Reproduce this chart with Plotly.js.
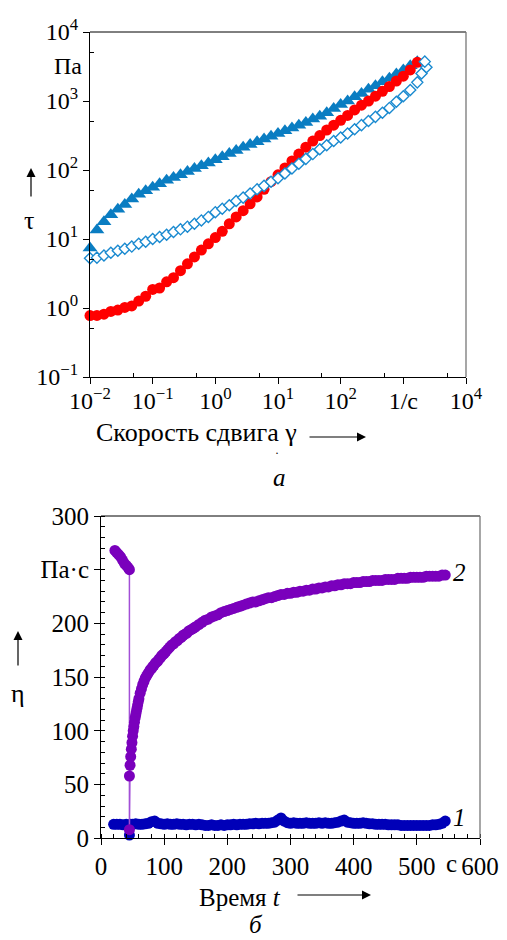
<!DOCTYPE html>
<html><head><meta charset="utf-8">
<script src="https://cdn.plot.ly/plotly-3.0.1.min.js"></script>
<style>
html,body{margin:0;padding:0;background:#fff}
#chart{width:507px;height:940px}
</style>
</head><body><div id="chart"></div>
<script>
// ---------- Panel (а): flow curves ----------
const shearRate = [0.01, 0.0129, 0.0167, 0.0215, 0.0278, 0.0359, 0.0464, 0.0599, 0.0774,
  0.1, 0.129, 0.167, 0.215, 0.278, 0.359, 0.464, 0.599, 0.774,
  1, 1.29, 1.67, 2.15, 2.78, 3.59, 4.64, 5.99, 7.74,
  10, 12.9, 16.7, 21.5, 27.8, 35.9, 46.4, 59.9, 77.4,
  100, 129, 167, 215, 278, 359, 464, 599, 774,
  1000, 1290, 1670];
const stressCircles = [0.776, 0.78, 0.813, 0.891, 0.933, 1.02, 1.07, 1.26, 1.48,
  1.86, 1.95, 2.40, 2.75, 3.47, 4.37, 5.50, 6.92, 8.51,
  10.5, 12.9, 16.6, 20.9, 25.7, 32.4, 40.7, 52.5, 67.6,
  85.1, 107, 135, 170, 214, 263, 316, 380, 447,
  525, 617, 741, 871, 1000, 1175, 1380, 1622, 1950,
  2290, 2820, 3630];
const stressTriangles = [7.4, 13.5, 17.8, 22.4, 26.9, 31.6, 38.0, 44.7, 50.1,
  56.2, 63.1, 70.8, 77.6, 85.1, 95.5, 105, 115, 126,
  141, 155, 174, 191, 214, 234, 257, 282, 309,
  339, 372, 407, 447, 490, 550, 603, 676, 776,
  891, 1000, 1148, 1288, 1479, 1660, 1905, 2138, 2455,
  2818, 3236, 3715];
const diamondRate = [0.01, 0.0129, 0.0167, 0.0215, 0.0278, 0.0359, 0.0464, 0.0599, 0.0774,
  0.1, 0.129, 0.167, 0.215, 0.278, 0.359, 0.464, 0.599, 0.774,
  1, 1.29, 1.67, 2.15, 2.78, 3.59, 4.64, 5.99, 7.74,
  10, 12.9, 16.7, 21.5, 27.8, 35.9, 46.4, 59.9, 77.4,
  100, 129, 167, 215, 278, 359, 464, 599, 774,
  1000, 1290, 1670, 1950, 2340, 2200];
const stressDiamonds = [5.25, 5.37, 5.75, 6.31, 6.76, 7.24, 7.76, 8.51, 9.12,
  10.0, 10.7, 11.5, 12.6, 13.8, 15.1, 16.6, 18.6, 20.9,
  24.5, 27.5, 30.9, 35.5, 39.8, 45.7, 52.5, 58.9, 67.6,
  75.9, 89.1, 105, 123, 145, 170, 200, 229, 263,
  295, 339, 389, 447, 513, 589, 676, 794, 977,
  1175, 1445, 1862, 2510, 3090, 3720];
const xTickVals1 = [0.01, 0.1, 1, 10, 100, 1000, 10000];
const xTickText1 = ['10<sup>−2</sup>', '10<sup>−1</sup>', '10<sup>0</sup>', '10<sup>1</sup>', '10<sup>2</sup>', '1/с', '10<sup>4</sup>'];
const yTickVals1 = [0.1, 1, 10, 100, 1000, 10000];
const yTickText1 = ['10<sup>−1</sup>', '10<sup>0</sup>', '10<sup>1</sup>', '10<sup>2</sup>', '10<sup>3</sup>', '10<sup>4</sup>'];
const minorVals1 = [0.05, 0.5, 5, 50, 500, 5000];

// ---------- Panel (б): viscosity vs time ----------
const time1 = [20, 25, 30, 35, 40, 45, 47, 50, 55, 60, 65, 70, 75, 80, 85, 90, 95, 100,
  105, 110, 115, 120, 125, 130, 135, 140, 145, 150, 155, 160, 165, 170, 175, 180, 185, 190, 195, 200,
  205, 210, 215, 220, 225, 230, 235, 240, 245, 250, 255, 260, 265, 270, 275, 280, 285, 290, 295, 300,
  305, 310, 315, 320, 325, 330, 335, 340, 345, 350, 355, 360, 365, 370, 375, 380, 385, 390, 395, 400,
  405, 410, 415, 420, 425, 430, 435, 440, 445, 450, 455, 460, 465, 470, 475, 480, 485, 490, 495, 500,
  505, 510, 515, 520, 525, 530, 535, 540, 545];
const eta1 = [13, 13, 13, 12.5, 13, 3, 13, 13, 13.5, 13, 13, 13.5, 14, 15.5, 16, 14, 13.5, 13,
  13.5, 13, 13, 13.5, 13, 13, 12.5, 13, 13, 12.5, 13, 12.5, 12, 12, 12.5, 12, 12, 12.5, 12, 12.5,
  12.5, 13, 12.5, 13, 13, 13, 13.5, 13.5, 14, 13.5, 14, 14, 14, 14.5, 15, 17, 19, 16, 14.5, 14,
  14.5, 14, 14, 14, 14.5, 14, 14, 14, 14.5, 14, 14.5, 14, 14, 14.5, 15, 16, 17, 15, 14.5, 14,
  14, 14, 14.5, 14, 13.5, 13.5, 13, 13, 13, 13, 12.5, 12.5, 12.5, 12.5, 12, 12, 12, 12, 12, 12,
  12, 12, 12, 12, 12.5, 12.5, 13, 14, 16];
const time2 = [22, 25, 28, 31, 34, 37, 40, 43, 45, 45, 45, 46, 47, 48, 49, 50, 51, 52, 53, 54,
  55, 56, 57, 58, 59, 60, 62, 64, 66, 68, 70, 72, 74, 76, 78, 80, 82, 84, 86, 88, 90, 92, 94, 96, 98, 100,
  103, 106, 109, 112, 115, 118, 121, 124, 127, 130, 133, 136, 139, 142, 145, 148, 150,
  155, 160, 165, 170, 175, 180, 185, 190, 195, 200,
  205, 210, 215, 220, 225, 230, 235, 240, 245, 250, 255, 260, 265, 270, 275, 280, 285, 290, 295, 300,
  305, 310, 315, 320, 325, 330, 335, 340, 345, 350, 355, 360, 365, 370, 375, 380, 385, 390, 395, 400,
  405, 410, 415, 420, 425, 430, 435, 440, 445, 450, 455, 460, 465, 470, 475, 480, 485, 490, 495, 500,
  505, 510, 515, 520, 525, 530, 535, 540, 545];
const eta2 = [268, 266, 264, 262, 259, 256, 254, 252, 250, 8, 58, 68, 76, 83, 89, 95, 100, 104, 108, 112,
  115, 118, 121, 124, 127, 130, 135, 139, 143, 146, 149, 151, 153, 155, 157, 158, 160, 161, 163, 164, 165, 167, 168, 170, 171, 172,
  174, 176, 178, 180, 181, 183, 184, 186, 187, 189, 190, 191, 193, 194, 195, 196, 197,
  199, 201, 203, 204, 206, 207, 208, 210, 211, 212,
  213, 214, 215, 216, 217, 218, 219, 220, 220, 221, 222, 223, 224, 224, 225, 226, 227, 227, 228, 228,
  229, 229, 230, 230, 231, 231, 232, 232, 233, 233, 234, 234, 235, 235, 236, 236, 237, 237, 237, 238,
  238, 238, 239, 239, 239, 240, 240, 240, 240, 241, 241, 241, 241, 242, 242, 242, 242, 243, 243, 243,
  243, 243, 244, 244, 244, 244, 244, 245, 245];
const xTickVals2 = [0, 100, 200, 300, 400, 500, 600];
const xTickText2 = ['0', '100', '200', '300', '400', '500', '600'];
const yTickVals2 = [0, 50, 100, 150, 200, 250, 300];
const yTickText2 = ['0', '50', '100', '150', '200', 'Па·с', '300'];

const FONT = 'Liberation Serif';
const W = 507, H = 940;
const px = v => v / W, py = v => 1 - v / H;

const traces = [
  {x: shearRate, y: stressTriangles, xaxis: 'x', yaxis: 'y', mode: 'markers', type: 'scatter',
   marker: {symbol: 'triangle-up', size: 13, color: '#0a7dc2'}, cliponaxis: false},
  {x: shearRate, y: stressCircles, xaxis: 'x', yaxis: 'y', mode: 'markers', type: 'scatter',
   marker: {symbol: 'circle', size: 11, color: '#ff0000'}, cliponaxis: false},
  {x: diamondRate, y: stressDiamonds, xaxis: 'x', yaxis: 'y', mode: 'markers', type: 'scatter',
   marker: {symbol: 'diamond', size: 8.5, color: '#ffffff', line: {color: '#1a8ad0', width: 1.4}}, cliponaxis: false},
  {x: time1, y: eta1, xaxis: 'x2', yaxis: 'y2', mode: 'markers', type: 'scatter',
   marker: {symbol: 'circle', size: 11, color: '#0000b8'}, cliponaxis: false},
  {x: time2, y: eta2, xaxis: 'x2', yaxis: 'y2', mode: 'lines+markers', type: 'scatter',
   line: {color: '#a24fd6', width: 1.5},
   marker: {symbol: 'circle', size: 11, color: '#7a00bc'}, cliponaxis: false}
];

const tickfont = {family: FONT, size: 24, color: '#000'};
const common = {showline: true, linecolor: '#000', linewidth: 1, showgrid: false, zeroline: false,
  ticks: 'outside', ticklen: 6, tickwidth: 1, tickcolor: '#000', tickmode: 'array', tickfont: tickfont};

const d1x = [px(90), px(466)], d1y = [py(377), py(32)];
const d2x = [px(101), px(480)], d2y = [py(838.3), py(516)];

function label(x, y, text, size) {
  return {xref: 'paper', yref: 'paper', x: px(x), y: py(y), xanchor: 'center', yanchor: 'middle',
    text: text, showarrow: false, font: {family: FONT, size: size || 25, color: '#000'}};
}
function arrow(x, y, ax, ay) {
  return {xref: 'paper', yref: 'paper', x: px(x), y: py(y), ax: ax, ay: ay, text: '', showarrow: true,
    arrowhead: 2, arrowsize: 1.5, arrowwidth: 1.2, arrowcolor: '#000'};
}

const layout = {
  width: W, height: H, margin: {l: 0, r: 0, t: 0, b: 0},
  paper_bgcolor: '#fff', plot_bgcolor: '#fff', showlegend: false,
  font: {family: FONT, color: '#000'},
  xaxis: Object.assign({}, common, {type: 'log', domain: d1x, range: [-2, 4], anchor: 'y',
    tickvals: xTickVals1, ticktext: xTickText1, ticklabelstandoff: -4,
    minor: {tickmode: 'array', tickvals: minorVals1, ticks: 'inside', ticklen: 4, tickcolor: '#000', showgrid: false}}),
  yaxis: Object.assign({}, common, {type: 'log', domain: d1y, range: [-1, 4], anchor: 'x',
    tickvals: yTickVals1, ticktext: yTickText1,
    minor: {tickmode: 'array', tickvals: minorVals1, ticks: 'inside', ticklen: 4, tickcolor: '#000', showgrid: false}}),
  xaxis2: Object.assign({}, common, {domain: d2x, range: [0, 600], anchor: 'y2',
    tickvals: xTickVals2, ticktext: xTickText2, tickfont: {family: FONT, size: 25, color: '#000'},
    minor: {dtick: 20, ticks: 'inside', ticklen: 4, tickcolor: '#000', showgrid: false}}),
  yaxis2: Object.assign({}, common, {domain: d2y, range: [0, 300], anchor: 'x2',
    tickvals: yTickVals2, ticktext: yTickText2, tickfont: {family: FONT, size: 25, color: '#000'},
    minor: {dtick: 10, ticks: 'inside', ticklen: 4, tickcolor: '#000', showgrid: false}}),
  shapes: [
    {type: 'line', xref: 'paper', yref: 'paper', x0: d1x[0], x1: d1x[1], y0: d1y[1], y1: d1y[1], line: {color: '#000', width: 1}},
    {type: 'line', xref: 'paper', yref: 'paper', x0: d1x[1], x1: d1x[1], y0: d1y[0], y1: d1y[1], line: {color: '#777', width: 1.3}},
    {type: 'line', xref: 'paper', yref: 'paper', x0: d2x[0], x1: d2x[1], y0: d2y[1], y1: d2y[1], line: {color: '#000', width: 1}},
    {type: 'line', xref: 'paper', yref: 'paper', x0: d2x[1], x1: d2x[1], y0: d2y[0], y1: d2y[1], line: {color: '#777', width: 1.3}}
  ],
  annotations: [
    label(68, 66, 'Па', 24),
    arrow(31, 168, 0, 30),
    label(29, 220, 'τ', 26),
    Object.assign(label(94, 432, 'Скорость сдвига γ', 26), {xanchor: 'left'}),
    label(277, 453, '·', 12),
    arrow(366, 437, -58, 0),
    label(279, 477, '<i>а</i>', 25),
    arrow(18, 631, 0, 36),
    label(18, 693, 'η', 26),
    label(240, 897, 'Время <i>t</i>', 25),
    arrow(371, 895, -75, 0),
    label(256, 924, '<i>б</i>', 25),
    label(459, 572, '<i>2</i>', 25),
    label(459, 817, '<i>1</i>', 25),
    label(451, 863, 'с', 25)
  ]
};

Plotly.newPlot('chart', traces, layout, {staticPlot: true, displayModeBar: false});
</script></body></html>
